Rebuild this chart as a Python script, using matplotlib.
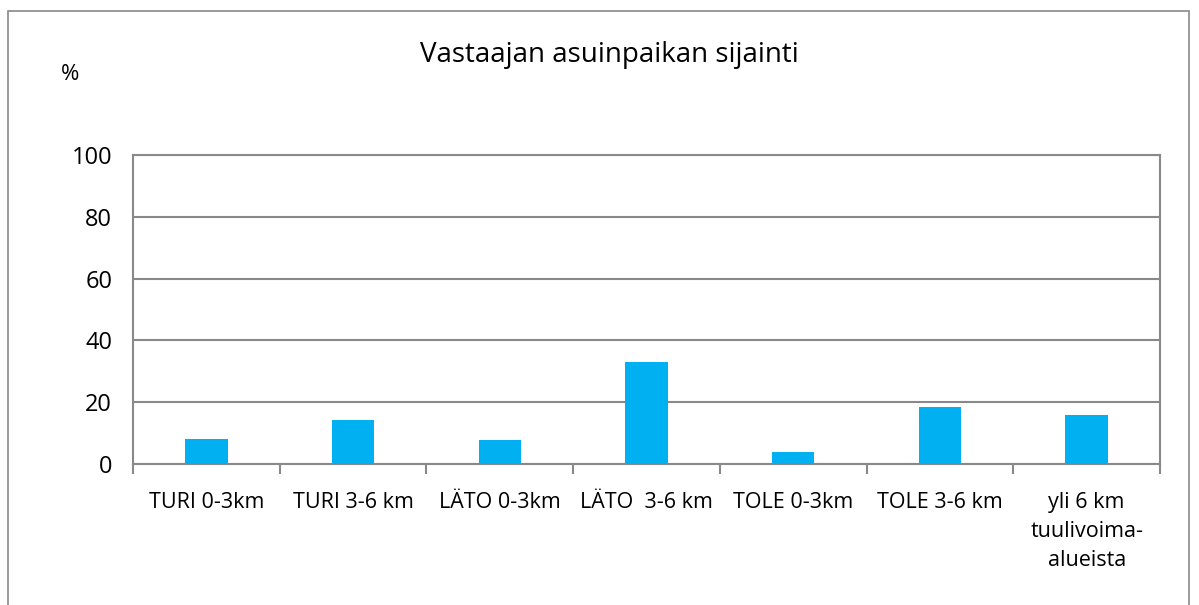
import matplotlib
matplotlib.use('Agg')
import matplotlib.pyplot as plt
from matplotlib.patches import Rectangle

categories = ['TURI 0-3km', 'TURI 3-6 km', 'LÄTO 0-3km', 'LÄTO  3-6 km',
              'TOLE 0-3km', 'TOLE 3-6 km', 'yli 6 km\ntuulivoima-\nalueista']
values = [8.2, 14.3, 7.8, 32.9, 4.0, 18.4, 15.7]
yticks = [0, 20, 40, 60, 80, 100]

plt.rcParams['font.family'] = ['Open Sans', 'DejaVu Sans']
grey = '#898989'

fig = plt.figure(figsize=(11.99, 6.05), dpi=100)
fig.patches.append(Rectangle((8 / 1199, -0.01), (1189 - 8) / 1199, (605 - 11) / 605 + 0.01,
                             transform=fig.transFigure, fill=False,
                             edgecolor=grey, linewidth=1.2))

ax = fig.add_axes([133 / 1199, (605 - 464) / 605, (1160 - 133) / 1199, (464 - 155) / 605])
x = list(range(len(categories)))
ax.bar(x, values, width=0.29, color='#00B0F0', zorder=3)

ax.set_xlim(-0.5, len(categories) - 0.5)
ax.set_ylim(0, 100)
ax.set_yticks(yticks)
ax.grid(axis='y', color=grey, linewidth=1.5, zorder=0)
for s in ax.spines.values():
    s.set_color(grey)
    s.set_linewidth(1.5)

ax.set_xticks(x)
ax.set_xticklabels(categories, fontsize=15.5, va='top', linespacing=1.5)
ax.set_xticks([i - 0.5 for i in range(len(categories) + 1)], minor=True)
ax.tick_params(axis='x', which='major', length=0, pad=20)
ax.tick_params(axis='x', which='minor', length=7, width=1.5, color=grey)
ax.tick_params(axis='y', length=0, pad=15, labelsize=17)

fig.text(0.508, 1 - 55 / 605, 'Vastaajan asuinpaikan sijainti', ha='center', va='center', fontsize=20)
fig.text(70 / 1199, 1 - 75 / 605, '%', ha='center', va='center', fontsize=16)

fig.savefig('out.png', dpi=100, facecolor='white')
